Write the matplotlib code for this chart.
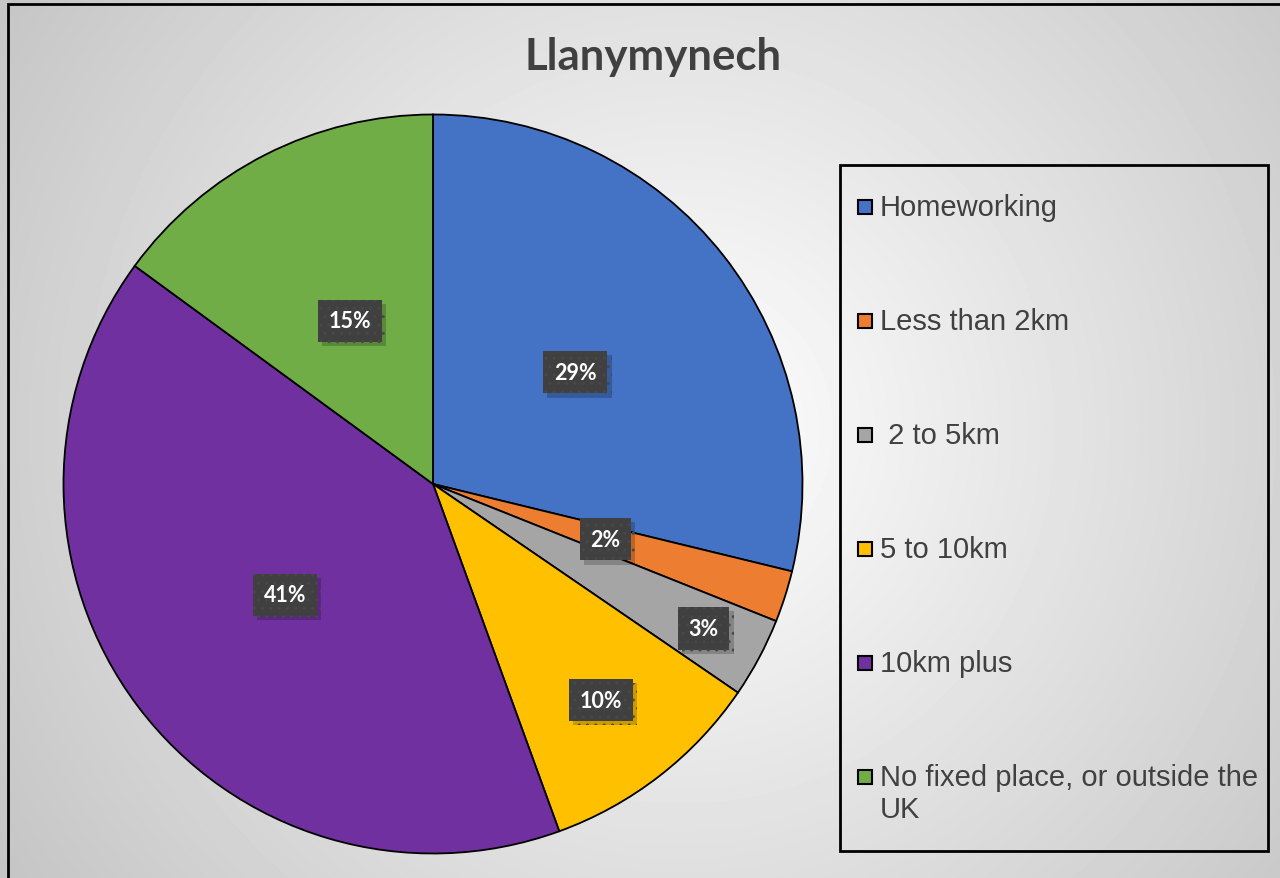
import numpy as np
import matplotlib.pyplot as plt
from matplotlib.patches import Rectangle
import matplotlib.patheffects as pe

title = "Llanymynech"
categories = ["Homeworking", "Less than 2km", " 2 to 5km", "5 to 10km",
              "10km plus", "No fixed place, or outside the\nUK"]
shares = [28.8, 2.25, 3.5, 9.9, 40.6, 14.95]
pct_labels = ["29%", "2%", "3%", "10%", "41%", "15%"]
colors = ["#4472C4", "#ED7D31", "#A5A5A5", "#FFC000", "#7030A0", "#70AD47"]
label_radius = [0.49, 0.49, 0.83, 0.74, 0.50, 0.495]

W, H = 1280, 879


def main():
    fig = plt.figure(figsize=(W / 100, H / 100), dpi=100)

    # radial gray gradient behind everything
    bg = fig.add_axes([0, 0, 1, 1])
    yy, xx = np.mgrid[0:H, 0:W]
    r = np.hypot(xx - 680, yy - 430) / np.hypot(680, 450)
    shade = 1.0 - 0.23 * np.clip(r, 0, 1.1) ** 1.0
    bg.imshow(shade, cmap="gray", vmin=0, vmax=1, extent=[0, W, 0, H],
              origin="upper", aspect="auto")
    bg.set_axis_off()

    ax = fig.add_axes([0, 0, 1, 1])
    ax.set_xlim(0, W)
    ax.set_ylim(0, H)
    ax.set_aspect("equal")
    ax.set_axis_off()

    cx, cy, rad = 433, H - 485, 369.5
    wedges, _ = ax.pie(shares, colors=colors, startangle=90, counterclock=False,
                       center=(cx, cy), radius=rad,
                       wedgeprops=dict(edgecolor="black", linewidth=1.3))
    ax.set_xlim(0, W)
    ax.set_ylim(0, H)

    for w, lab, rf in zip(wedges, pct_labels, label_radius):
        ang = np.deg2rad((w.theta1 + w.theta2) / 2)
        x = cx + rf * rad * np.cos(ang)
        y = cy + rf * rad * np.sin(ang)
        t = ax.text(x, y, lab, ha="center", va="center", color="white",
                    fontsize=15.5, fontweight="bold", family="Lato",
                    bbox=dict(boxstyle="square,pad=0.5", facecolor="#404040",
                              edgecolor="#484848", hatch="..", linewidth=0))
        t.get_bbox_patch().set_path_effects(
            [pe.SimplePatchShadow(offset=(3, -3), shadow_rgbFace="black",
                                  alpha=0.2), pe.Normal()])

    ax.text(653, H - 57, title, ha="center", va="center", fontsize=31.5,
            fontweight="bold", color="#404040", family="Lato")

    # legend box
    ax.add_patch(Rectangle((840, H - 852), 428, 686, facecolor="none",
                           edgecolor="black", linewidth=2))
    for i, (name, col) in enumerate(zip(categories, colors)):
        y = H - (208 + 114 * i)
        ax.add_patch(Rectangle((858, y - 7), 14, 14, facecolor=col,
                               edgecolor="black", linewidth=1.5))
        if "\n" in name:
            ax.text(880, y + 14, name, ha="left", va="top", fontsize=21,
                    color="#404040", family="Liberation Sans",
                    linespacing=1.18)
        else:
            ax.text(880, y, name, ha="left", va="center", fontsize=21,
                    color="#404040", family="Liberation Sans")

    # outer chart border
    ax.add_patch(Rectangle((8, -5), W, H, facecolor="none",
                           edgecolor="black", linewidth=2, clip_on=False))

    fig.savefig("out.png", dpi=100)


if __name__ == "__main__":
    main()
